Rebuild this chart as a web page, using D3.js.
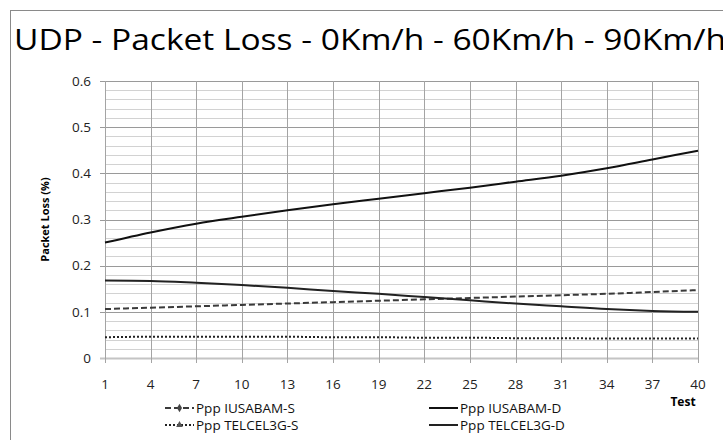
<!DOCTYPE html>
<html>
<head>
<meta charset="utf-8">
<script src="https://cdn.jsdelivr.net/npm/d3@7"></script>
<style>
  body { margin: 0; background: #fff; }
  svg { display: block; font-family: "Open Sans", "Noto Sans", sans-serif; }
</style>
</head>
<body>
<div id="chart"></div>
<script>
const tests = [1, 4, 7, 10, 13, 16, 19, 22, 25, 28, 31, 34, 37, 40];
const xTickLabels = [1, 4, 7, 10, 13, 16, 19, 22, 25, 28, 31, 34, 37, 40];
const yTickLabels = [0, 0.1, 0.2, 0.3, 0.4, 0.5, 0.6];

const iusabamS = [0.106, 0.109, 0.112, 0.115, 0.118, 0.121, 0.124, 0.127, 0.130, 0.133, 0.136, 0.139, 0.143, 0.147];
const telcelS = [0.045, 0.046, 0.046, 0.046, 0.046, 0.045, 0.045, 0.044, 0.044, 0.043, 0.043, 0.042, 0.042, 0.042];
const iusabamD = [0.250, 0.272, 0.291, 0.306, 0.320, 0.333, 0.345, 0.357, 0.369, 0.382, 0.395, 0.411, 0.430, 0.449];
const telcelD = [0.168, 0.167, 0.163, 0.158, 0.152, 0.145, 0.139, 0.132, 0.125, 0.118, 0.112, 0.106, 0.102, 0.100];

const seriesNames = ['Ppp IUSABAM-S', 'Ppp IUSABAM-D', 'Ppp TELCEL3G-S', 'Ppp TELCEL3G-D'];

const width = 723;
const height = 440;

const svg = d3.select('#chart')
    .append('svg')
    .attr('width', width)
    .attr('height', height);

// outer frame (runs off the right and bottom edges)
svg.append('rect')
    .attr('x', 10.5)
    .attr('y', 10.5)
    .attr('width', 740)
    .attr('height', 460)
    .attr('fill', 'none')
    .attr('stroke', '#8a8a8a');

// condensed title, squeezed to run just past the right edge
svg.append('text')
    .attr('x', 14)
    .attr('y', 50)
    .attr('textLength', 712)
    .attr('lengthAdjust', 'spacingAndGlyphs')
    .style('font-size', '30px')
    .style('fill', '#000')
    .text('UDP - Packet Loss - 0Km/h - 60Km/h - 90Km/h');

const x = d3.scaleLinear().domain([1, 40]).range([105, 698]);
const y = d3.scaleLinear().domain([0, 0.6]).range([358, 81]);

const grid = svg.append('g');

// minor horizontal grid
grid.selectAll('line.minor')
    .data(d3.range(0, 31).map(i => i * 0.02))
    .enter()
    .append('line')
    .attr('x1', x(1))
    .attr('x2', x(40))
    .attr('y1', d => Math.round(y(d)) + 0.5)
    .attr('y2', d => Math.round(y(d)) + 0.5)
    .attr('stroke', '#d2d2d2');

// major horizontal grid
grid.selectAll('line.major')
    .data(yTickLabels)
    .enter()
    .append('line')
    .attr('x1', x(1) - 5)
    .attr('x2', x(40))
    .attr('y1', d => Math.round(y(d)) + 0.5)
    .attr('y2', d => Math.round(y(d)) + 0.5)
    .attr('stroke', d => d === 0 ? '#c4c4c4' : '#9a9a9a')
    .attr('stroke-width', d => d === 0 ? 2 : 1);

// vertical grid
grid.selectAll('line.vert')
    .data(xTickLabels)
    .enter()
    .append('line')
    .attr('x1', d => Math.round(x(d)) + 0.5)
    .attr('x2', d => Math.round(x(d)) + 0.5)
    .attr('y1', y(0.6))
    .attr('y2', y(0) + 5)
    .attr('stroke', '#a4a4a4');

// y tick labels
svg.append('g').selectAll('text')
    .data(yTickLabels)
    .enter()
    .append('text')
    .attr('x', 91)
    .attr('y', d => y(d))
    .attr('dy', '0.35em')
    .attr('text-anchor', 'end')
    .style('font-size', '13.5px')
    .style('fill', '#222')
    .text(d => d === 0 ? '0' : d3.format('.1f')(d));

// x tick labels
svg.append('g').selectAll('text')
    .data(xTickLabels)
    .enter()
    .append('text')
    .attr('x', d => x(d))
    .attr('y', 389)
    .attr('text-anchor', 'middle')
    .style('font-size', '13.5px')
    .style('fill', '#222')
    .text(d => d);

// axis titles
svg.append('text')
    .attr('transform', `translate(49,${(y(0) + y(0.6)) / 2}) rotate(-90)`)
    .attr('text-anchor', 'middle')
    .style('font-size', '11px')
    .style('font-weight', 'bold')
    .text('Packet Loss (%)');

svg.append('text')
    .attr('x', 683)
    .attr('y', 406)
    .attr('text-anchor', 'middle')
    .style('font-size', '12px')
    .style('font-weight', 'bold')
    .text('Test');

const line = d3.line()
    .x((d, i) => x(tests[i]))
    .y(d => y(d))
    .curve(d3.curveMonotoneX);

const styles = [
  { data: iusabamS, stroke: '#3a3a3a', dash: '6,3', width: 2 },
  { data: iusabamD, stroke: '#111', dash: null, width: 2 },
  { data: telcelS, stroke: '#222', dash: '2,2', width: 2 },
  { data: telcelD, stroke: '#222', dash: null, width: 2 }
];

svg.append('g').selectAll('path')
    .data(styles)
    .enter()
    .append('path')
    .attr('d', d => line(d.data))
    .attr('fill', 'none')
    .attr('stroke', d => d.stroke)
    .attr('stroke-width', d => d.width)
    .attr('stroke-dasharray', d => d.dash);

// legend
const legendPos = [[165, 408], [429, 408], [165, 425], [429, 425]];
const legend = svg.append('g').selectAll('g')
    .data(styles)
    .enter()
    .append('g')
    .attr('transform', (d, i) => `translate(${legendPos[i][0]},${legendPos[i][1]})`);

legend.append('line')
    .attr('x1', 0)
    .attr('x2', 29)
    .attr('y1', 0)
    .attr('y2', 0)
    .attr('stroke', d => d.stroke)
    .attr('stroke-width', 2)
    .attr('stroke-dasharray', d => d.dash);

legend.filter((d, i) => i === 0)
    .append('path')
    .attr('d', d3.symbol(d3.symbolDiamond, 22)())
    .attr('transform', 'translate(14.5,0)')
    .attr('fill', '#444');

legend.filter((d, i) => i === 2)
    .append('path')
    .attr('d', d3.symbol(d3.symbolTriangle, 20)())
    .attr('transform', 'translate(14.5,0)')
    .attr('fill', '#555');

legend.append('text')
    .attr('x', 31)
    .attr('y', 0)
    .attr('dy', '0.35em')
    .style('font-size', '13.5px')
    .style('fill', '#111')
    .text((d, i) => seriesNames[i]);
</script>
</body>
</html>
